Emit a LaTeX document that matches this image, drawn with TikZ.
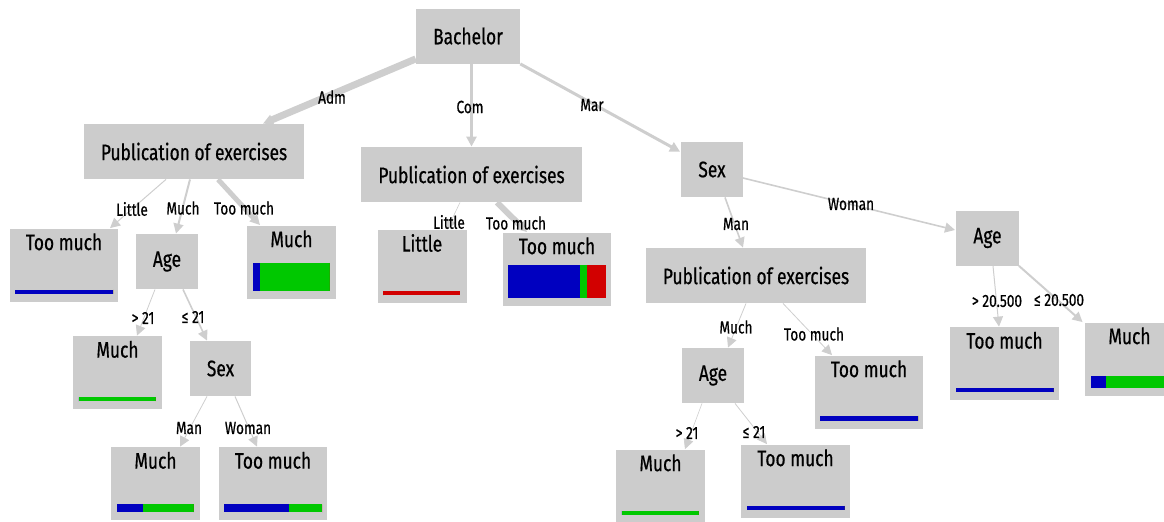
\documentclass[tikz,border=0pt]{standalone}
\usepackage{fontspec}
\setmainfont[FakeStretch=0.775, FakeBold=0.6]{Fira Sans}
\usepackage{tikz}
\usetikzlibrary{arrows.meta}
\usetikzlibrary{calc}
\definecolor{boxgray}{RGB}{204,204,204}
\definecolor{edgegray}{RGB}{206,206,206}
\definecolor{tblue}{RGB}{0,0,192}
\definecolor{tgreen}{RGB}{0,200,0}
\definecolor{tred}{RGB}{210,0,0}
\tikzset{
    split/.style={rectangle, fill=boxgray, inner xsep=8.5pt, inner ysep=0pt,
        minimum height=27.5pt, font=\fontsize{11.2}{13}\selectfont},
    leaf/.style={rectangle, fill=boxgray, inner xsep=8pt, inner ysep=0pt,
        minimum width=44.5pt, text height=10.8pt, text depth=25.7pt,
        font=\fontsize{11.2}{13}\selectfont},
    branch/.style={draw=edgegray, -{Triangle[length=5pt,width=5pt]}},
    brlabel/.style={inner sep=0pt, font=\fontsize{8.8}{10}\selectfont}
}
% bar of class shares at the foot of a leaf: node, height, blue, green, red
\newcommand{\leafbar}[5]{%
    \fill[tblue] ($(#1.south west)+(6,-8)$) rectangle ++(#3,-#2);
    \fill[tgreen] ($(#1.south west)+(6+#3,-8)$) rectangle ++(#4,-#2);
    \fill[tred] ($(#1.south west)+(6+#3+#4,-8)$) rectangle ++(#5,-#2);
}

\begin{document}
\begin{tikzpicture}[x=0.5pt, y=-0.5pt]
    \useasboundingbox (0,0) rectangle (1164,521);
    \clip (0,0) rectangle (1164,521);

    % split nodes
    \node[split] (bach) at (468,36) {Bachelor};
    \node[split] (pubA) at (194,151.5) {Publication of exercises};
    \node[split] (pubB) at (471.5,174.5) {Publication of exercises};
    \node[split] (sexM) at (712,169.5) {Sex};
    \node[split] (pubC) at (756,275.5) {Publication of exercises};
    \node[split] (ageW) at (987.5,238) {Age};
    \node[split] (ageA) at (167,261.5) {Age};
    \node[split] (sexB) at (220.5,368.5) {Sex};
    \node[split] (ageC) at (713,375.5) {Age};

    % leaves
    \node[leaf] (lfA1) at (64,265) {Too much};
    \node[leaf] (lfA3) at (291.5,262) {Much};
    \node[leaf] (lfB1) at (422,266.5) {Little};
    \node[leaf] (lfB2) at (557,269) {Too much};
    \node[leaf] (lfA21) at (117.5,372.5) {Much};
    \node[leaf] (lfMan) at (155.5,483.5) {Much};
    \node[leaf] (lfWom) at (273,483.5) {Too much};
    \node[leaf] (lfR1) at (1004.5,363.5) {Too much};
    \node[leaf] (lfR2) at (1129.5,359) {Much};
    \node[leaf] (lfC2) at (869,392) {Too much};
    \node[leaf] (lfC21) at (660.5,486) {Much};
    \node[leaf] (lfC22) at (795.5,481) {Too much};

    \leafbar{lfA1}{4}{98}{0}{0}
    \leafbar{lfA3}{28}{7}{70}{0}
    \leafbar{lfB1}{4}{0}{0}{77}
    \leafbar{lfB2}{33}{72}{7}{19}
    \leafbar{lfA21}{4}{0}{77}{0}
    \leafbar{lfMan}{8}{26}{51}{0}
    \leafbar{lfWom}{8}{65}{33}{0}
    \leafbar{lfR1}{4}{98}{0}{0}
    \leafbar{lfR2}{12}{15}{62}{0}
    \leafbar{lfC2}{5}{98}{0}{0}
    \leafbar{lfC21}{4}{0}{77}{0}
    \leafbar{lfC22}{4}{98}{0}{0}

    % branches
    \draw[branch, line width=3.5pt] ($(bach.south west)+(0,-5)$) -- ($(pubA.north)+(69,0)$);
    \draw[branch, line width=1.5pt] (bach.south -| pubB.north) -- (pubB.north);
    \draw[branch, line width=1.5pt] (bach.south east) -- ($(sexM.north west)+(-1,10)$);
    \draw[branch, line width=0.5pt] ($(pubA.south)+(-28,0)$) -- ($(lfA1.north)+(46,0)$);
    \draw[branch, line width=1pt] ($(pubA.south)+(-4,0)$) -- ($(ageA.north)+(9,0)$);
    \draw[branch, line width=2.5pt] ($(pubA.south)+(24,0)$) -- ($(lfA3.north)+(-31.5,0)$);
    \draw[branch, line width=0.3pt] ($(pubB.south)+(-11.5,0)$) -- ($(lfB1.north)+(25,0)$);
    \draw[branch, line width=3pt] ($(pubB.south)+(25.5,0)$) -- ($(lfB2.north)+(-30,0)$);
    \draw[branch, line width=0.8pt] ($(sexM.south)+(13,0)$) -- ($(pubC.north)+(-13,0)$);
    \draw[branch, line width=0.8pt] ($(sexM.east)+(0,8.5)$) -- ($(ageW.west)+(-1,-8)$);
    \draw[branch, line width=0.5pt] ($(ageW.south)+(5.5,0)$) -- ($(lfR1.north)+(-5.5,0)$);
    \draw[branch, line width=1pt] (ageW.south east) -- ($(lfR2.north west)+(-2,0)$);
    \draw[branch, line width=0.4pt] ($(pubC.south)+(-10,0)$) -- ($(ageC.north)+(15,0)$);
    \draw[branch, line width=0.4pt] ($(pubC.south)+(27,0)$) -- ($(lfC2.north)+(-37,0)$);
    \draw[branch, line width=0.4pt] ($(ageA.south)+(-12,0)$) -- ($(lfA21.north)+(19.5,0)$);
    \draw[branch, line width=0.8pt] ($(ageA.south)+(16,0)$) -- ($(sexB.north)+(-13.5,0)$);
    \draw[branch, line width=0.4pt] ($(sexB.south)+(-13.5,0)$) -- ($(lfMan.north)+(24.5,0)$);
    \draw[branch, line width=0.5pt] ($(sexB.south)+(14.5,0)$) -- ($(lfWom.north)+(-16,0)$);
    \draw[branch, line width=0.3pt] ($(ageC.south)+(-11,0)$) -- ($(lfC21.north)+(24.5,0)$);
    \draw[branch, line width=0.4pt] ($(ageC.south)+(22,0)$) -- ($(lfC22.north)+(-28.5,0)$);

    % branch labels
    \node[brlabel] (lAdm) at (332,97) {Adm};
    \node[brlabel] (lCom) at (470,107) {Com};
    \node[brlabel] (lMar) at (592,105) {Mar};
    \node[brlabel] (lA1) at (132,209) {Little};
    \node[brlabel] (lA2) at (183,208) {Much};
    \node[brlabel] (lA3) at (244,208) {Too much};
    \node[brlabel] (lB1) at (449,222) {Little};
    \node[brlabel] (lB2) at (516,223) {Too much};
    \node[brlabel] (lMan) at (736,224) {Man};
    \node[brlabel] (lWom) at (851,204) {Woman};
    \node[brlabel] (lW1) at (997,301) {> 20.500};
    \node[brlabel] (lW2) at (1059,300) {≤ 20.500};
    \node[brlabel] (lC1) at (736,327) {Much};
    \node[brlabel] (lC2) at (814,334) {Too much};
    \node[brlabel] (lAg1) at (143,318) {> 21};
    \node[brlabel] (lAg2) at (193,317) {≤ 21};
    \node[brlabel] (lS1) at (189,428) {Man};
    \node[brlabel] (lS2) at (248,428) {Woman};
    \node[brlabel] (lCg1) at (687,433) {> 21};
    \node[brlabel] (lCg2) at (754,432) {≤ 21};
\end{tikzpicture}
\end{document}
